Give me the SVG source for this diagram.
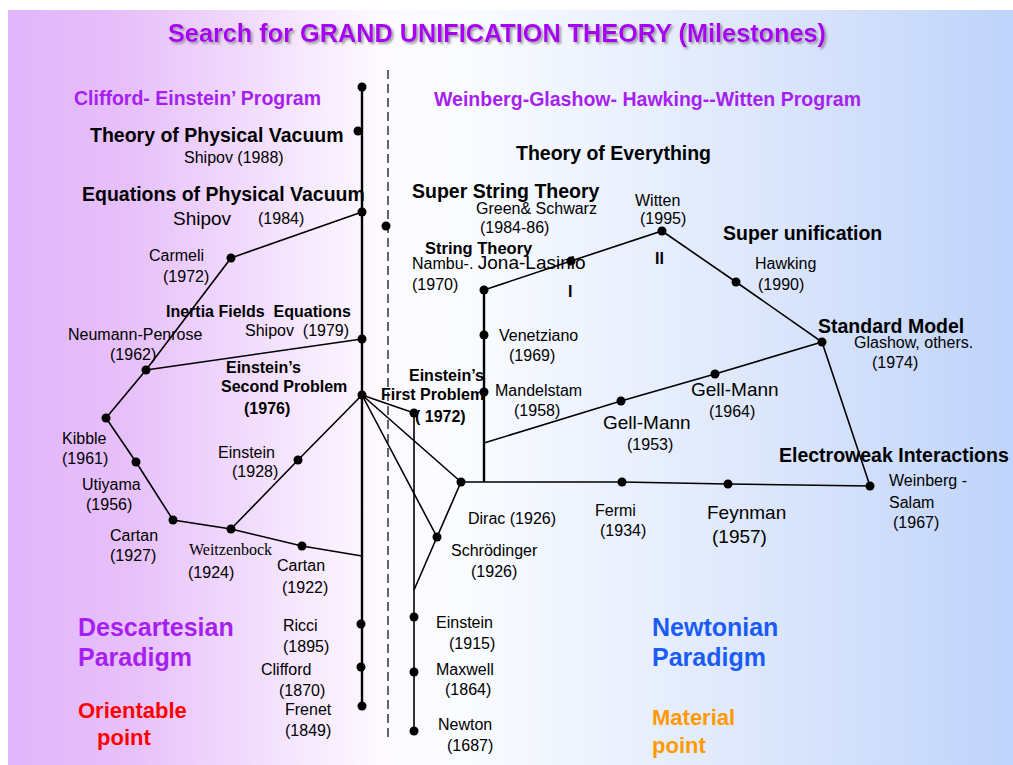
<svg xmlns="http://www.w3.org/2000/svg" width="1013" height="765" viewBox="0 0 1013 765">
<defs>
<linearGradient id="bg" x1="0" y1="0" x2="1" y2="0">
<stop offset="0" stop-color="#e2b5fb"/>
<stop offset="0.12" stop-color="#e7c0fa"/>
<stop offset="0.37" stop-color="#fdfaff"/>
<stop offset="0.45" stop-color="#fafcff"/>
<stop offset="0.75" stop-color="#dde7fc"/>
<stop offset="1" stop-color="#bfd3fb"/>
</linearGradient>
<filter id="sh" x="-5%" y="-30%" width="110%" height="160%">
<feDropShadow dx="2" dy="2" stdDeviation="0.8" flood-color="#8a8a8a" flood-opacity="0.8"/>
</filter>
</defs>
<style>
text{font-family:"Liberation Sans",Arial,sans-serif;fill:#000}
.n{font-size:16px}
.m{font-size:19px}
.b{font-size:19.5px;font-weight:bold}
.bs{font-size:16px;font-weight:bold}
.pr{font-size:19.5px;font-weight:bold;fill:#a61ff0}
.big{font-size:25px;font-weight:bold}
.ln{stroke:#000;stroke-width:1.6;fill:none}
.ax{stroke:#000;stroke-width:2.4;fill:none}
.dot{fill:#000}
</style>
<rect x="8" y="10" width="1005" height="755" fill="url(#bg)"/>
<text id="title" x="497" y="42" text-anchor="middle" font-size="26" font-weight="bold" style="fill:#a800f2" textLength="658" lengthAdjust="spacingAndGlyphs" filter="url(#sh)">Search for GRAND UNIFICATION THEORY (Milestones)</text>

<g id="connectors">
<line class="ax" x1="362" y1="87" x2="362" y2="706"/>
<line x1="388" y1="70" x2="388" y2="742" stroke="#000" stroke-width="1.2" stroke-dasharray="9,5"/>
<line class="ln" x1="414" y1="413" x2="414" y2="731"/>
<line class="ax" x1="484" y1="290" x2="484" y2="482"/>
<polyline class="ln" points="362,212 231,258 146,370 106,418 136,462 173,520 231,529 302,546 362,556"/>
<line class="ln" x1="362" y1="339" x2="146" y2="370"/>
<polyline class="ln" points="362,395 298,460 231,529"/>
<line class="ln" x1="362" y1="395" x2="414" y2="413"/>
<line class="ln" x1="362" y1="395" x2="461" y2="482"/>
<line class="ln" x1="362" y1="395" x2="437" y2="537"/>
<polyline class="ln" points="461,482 437,537 414,590"/>
<polyline class="ln" points="461,482 622,482 728,484 870,486"/>
<polyline class="ln" points="484,443 621,401 715,374 822,342"/>
<polyline class="ln" points="484,290 571,261 662,231 736,282 822,342 870,486"/>
</g>

<g id="dots">
<circle class="dot" cx="362" cy="87" r="4.5"/>
<circle class="dot" cx="358" cy="131" r="4.5"/>
<circle class="dot" cx="362" cy="212" r="4.5"/>
<circle class="dot" cx="386" cy="226" r="4.5"/>
<circle class="dot" cx="362" cy="339" r="4.5"/>
<circle class="dot" cx="362" cy="395" r="4.5"/>
<circle class="dot" cx="361" cy="624" r="4.5"/>
<circle class="dot" cx="361" cy="667" r="4.5"/>
<circle class="dot" cx="362" cy="706" r="4.5"/>
<circle class="dot" cx="231" cy="258" r="4.5"/>
<circle class="dot" cx="146" cy="370" r="4.5"/>
<circle class="dot" cx="106" cy="418" r="4.5"/>
<circle class="dot" cx="136" cy="462" r="4.5"/>
<circle class="dot" cx="173" cy="520" r="4.5"/>
<circle class="dot" cx="231" cy="529" r="4.5"/>
<circle class="dot" cx="302" cy="546" r="4.5"/>
<circle class="dot" cx="298" cy="460" r="4.5"/>
<circle class="dot" cx="414" cy="413" r="4.5"/>
<circle class="dot" cx="461" cy="482" r="4.5"/>
<circle class="dot" cx="437" cy="537" r="4.5"/>
<circle class="dot" cx="414" cy="617" r="4.5"/>
<circle class="dot" cx="414" cy="672" r="4.5"/>
<circle class="dot" cx="414" cy="731" r="4.5"/>
<circle class="dot" cx="484" cy="290" r="4.5"/>
<circle class="dot" cx="484" cy="335" r="4.5"/>
<circle class="dot" cx="484" cy="392" r="4.5"/>
<circle class="dot" cx="571" cy="261" r="4.5"/>
<circle class="dot" cx="662" cy="231" r="4.5"/>
<circle class="dot" cx="736" cy="282" r="4.5"/>
<circle class="dot" cx="822" cy="342" r="4.5"/>
<circle class="dot" cx="870" cy="486" r="4.5"/>
<circle class="dot" cx="621" cy="401" r="4.5"/>
<circle class="dot" cx="715" cy="374" r="4.5"/>
<circle class="dot" cx="622" cy="482" r="4.5"/>
<circle class="dot" cx="728" cy="484" r="4.5"/>
</g>

<g id="headings">
<text class="pr" x="74" y="105">Clifford- Einstein’ Program</text>
<text class="pr" x="434" y="106" textLength="427">Weinberg-Glashow- Hawking--Witten Program</text>
<text class="big" x="78" y="636" style="fill:#a61ff0">Descartesian</text>
<text class="big" x="78" y="666" style="fill:#a61ff0">Paradigm</text>
<text class="big" x="652" y="636" style="fill:#1a5cf5">Newtonian</text>
<text class="big" x="652" y="666" style="fill:#1a5cf5">Paradigm</text>
<text x="78" y="718" font-size="22" font-weight="bold" style="fill:#ff0000">Orientable</text>
<text x="97" y="745" font-size="22" font-weight="bold" style="fill:#ff0000">point</text>
<text x="652" y="725" font-size="22" font-weight="bold" style="fill:#ff9a00">Material</text>
<text x="652" y="753" font-size="22" font-weight="bold" style="fill:#ff9a00">point</text>
</g>

<g id="n-vacuum88"><text class="b" x="90" y="142">Theory of Physical Vacuum</text><text class="n" x="184" y="163">Shipov (1988)</text></g>
<g id="n-vacuum84"><text class="b" x="82" y="201">Equations of Physical Vacuum</text><text class="m" x="173" y="225">Shipov</text><text class="n" x="258" y="224">(1984)</text></g>
<g id="n-carmeli"><text class="n" x="149" y="261">Carmeli</text><text class="n" x="163" y="282">(1972)</text></g>
<g id="n-inertia"><text class="bs" x="166" y="317" xml:space="preserve">Inertia Fields  Equations</text><text class="n" x="245" y="336" xml:space="preserve">Shipov  (1979)</text></g>
<g id="n-neumann"><text class="n" x="68" y="340">Neumann-Penrose</text><text class="n" x="110" y="360">(1962)</text></g>
<g id="n-second"><text class="bs" x="226" y="373">Einstein’s</text><text class="bs" x="221" y="392">Second Problem</text><text class="bs" x="244" y="414">(1976)</text></g>
<g id="n-kibble"><text class="n" x="62" y="444">Kibble</text><text class="n" x="62" y="464">(1961)</text></g>
<g id="n-utiyama"><text class="n" x="82" y="490">Utiyama</text><text class="n" x="86" y="510">(1956)</text></g>
<g id="n-einstein28"><text class="n" x="218" y="458">Einstein</text><text class="n" x="232" y="477">(1928)</text></g>
<g id="n-cartan27"><text class="n" x="110" y="541">Cartan</text><text class="n" x="110" y="561">(1927)</text></g>
<g id="n-weitz"><text x="189" y="555" font-size="16" style="font-family:'Liberation Serif','Times New Roman',serif">Weitzenbock</text><text class="n" x="188" y="578">(1924)</text></g>
<g id="n-cartan22"><text class="n" x="277" y="571">Cartan</text><text class="n" x="282" y="593">(1922)</text></g>
<g id="n-ricci"><text class="n" x="283" y="631">Ricci</text><text class="n" x="283" y="652">(1895)</text></g>
<g id="n-clifford"><text class="n" x="261" y="675">Clifford</text><text class="n" x="279" y="696">(1870)</text></g>
<g id="n-frenet"><text class="n" x="285" y="715">Frenet</text><text class="n" x="285" y="736">(1849)</text></g>

<g id="n-toe"><text class="b" x="516" y="160">Theory of Everything</text></g>
<g id="n-superstring"><text class="b" x="412" y="198">Super String Theory</text><text class="n" x="476" y="214">Green&amp; Schwarz</text><text class="n" x="480" y="233">(1984-86)</text></g>
<g id="n-witten"><text class="n" x="635" y="206">Witten</text><text class="n" x="640" y="224">(1995)</text><text class="bs" x="655" y="264">II</text></g>
<g id="n-string"><text x="425" y="254" font-size="16.5" font-weight="bold">String Theory</text><text class="n" x="412" y="269">Nambu-. <tspan font-size="19">Jona-Lasinio</tspan></text><text class="n" x="412" y="290">(1970)</text><text class="bs" x="568" y="297">I</text></g>
<g id="n-superunif"><text class="b" x="723" y="240">Super unification</text></g>
<g id="n-hawking"><text class="n" x="755" y="269">Hawking</text><text class="n" x="758" y="290">(1990)</text></g>
<g id="n-standard"><text class="b" x="818" y="333">Standard Model</text><text class="n" x="854" y="348">Glashow, others.</text><text class="n" x="872" y="368">(1974)</text></g>
<g id="n-venetziano"><text class="n" x="499" y="341">Venetziano</text><text class="n" x="509" y="361">(1969)</text></g>
<g id="n-first"><text class="bs" x="409" y="381">Einstein’s</text><text class="bs" x="381" y="400">First Problem</text><text class="bs" x="415" y="422">( 1972)</text></g>
<g id="n-mandelstam"><text class="n" x="495" y="396">Mandelstam</text><text class="n" x="514" y="416">(1958)</text></g>
<g id="n-gellmann64"><text class="m" x="691" y="396">Gell-Mann</text><text class="n" x="709" y="417">(1964)</text></g>
<g id="n-gellmann53"><text class="m" x="603" y="429">Gell-Mann</text><text class="n" x="627" y="450">(1953)</text></g>
<g id="n-electroweak"><text class="b" x="779" y="462">Electroweak Interactions</text><text class="n" x="889" y="486">Weinberg -</text><text class="n" x="889" y="508">Salam</text><text class="n" x="893" y="528">(1967)</text></g>
<g id="n-dirac"><text class="n" x="468" y="524">Dirac (1926)</text></g>
<g id="n-fermi"><text class="n" x="595" y="516">Fermi</text><text class="n" x="600" y="536">(1934)</text></g>
<g id="n-feynman"><text class="m" x="707" y="519">Feynman</text><text class="m" x="712" y="543">(1957)</text></g>
<g id="n-schrodinger"><text class="n" x="451" y="556">Schrödinger</text><text class="n" x="471" y="577">(1926)</text></g>
<g id="n-einstein15"><text class="n" x="436" y="628">Einstein</text><text class="n" x="449" y="649">(1915)</text></g>
<g id="n-maxwell"><text class="n" x="436" y="675">Maxwell</text><text class="n" x="445" y="695">(1864)</text></g>
<g id="n-newton"><text class="n" x="438" y="730">Newton</text><text class="n" x="447" y="751">(1687)</text></g>
</svg>
